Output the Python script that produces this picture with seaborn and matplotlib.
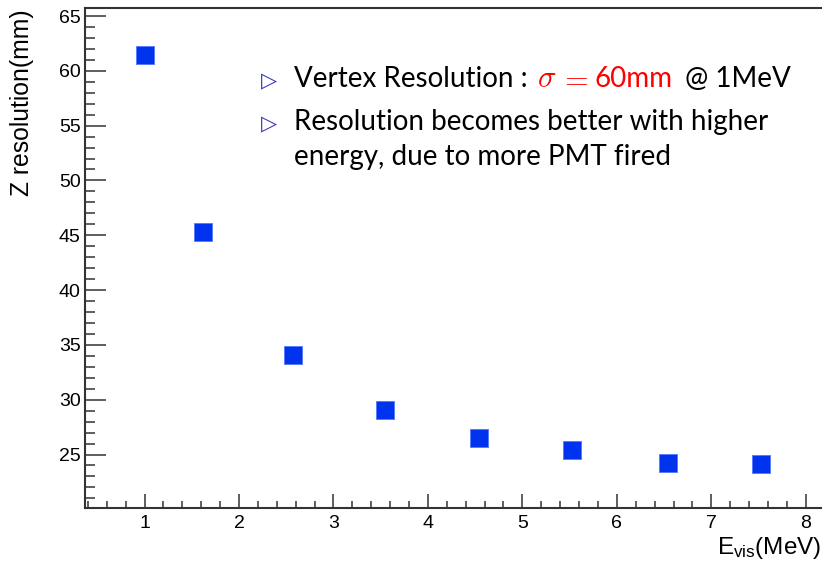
import matplotlib
matplotlib.use("Agg")
import matplotlib.pyplot as plt
import seaborn as sns
import pandas as pd
from matplotlib.ticker import MultipleLocator

energy = [1.0, 1.62, 2.57, 3.55, 4.54, 5.53, 6.54, 7.53]
resolution = [61.4, 45.3, 34.1, 29.1, 26.5, 25.4, 24.2, 24.1]
x_ticks = [1, 2, 3, 4, 5, 6, 7, 8]
y_ticks = [25, 30, 35, 40, 45, 50, 55, 60, 65]

sns.set_style("ticks")
plt.rcParams['font.family'] = ['Liberation Sans', 'DejaVu Sans']
plt.rcParams['text.color'] = 'black'
plt.rcParams['mathtext.fontset'] = 'custom'
plt.rcParams['mathtext.rm'] = 'Liberation Sans'
plt.rcParams['mathtext.it'] = 'Liberation Sans:italic'

df = pd.DataFrame({"E": energy, "Z": resolution})

fig = plt.figure(figsize=(8.22, 5.62), dpi=100)
ax = fig.add_axes([85/822, 54/562, (853-85)/822, (508-8)/562])
sns.scatterplot(data=df, x="E", y="Z", marker="s", s=150, color="#0033ee",
                edgecolor="#5577ff", linewidth=0.6, ax=ax, legend=False)

ax.set_xlim(0.37, 8.5)
ax.set_ylim(20.12, 65.73)
ax.set_xticks(x_ticks)
ax.set_yticks(y_ticks)
ax.xaxis.set_minor_locator(MultipleLocator(0.2))
ax.yaxis.set_minor_locator(MultipleLocator(1))
ax.tick_params(axis='y', which='major', direction='in', length=15, width=1.1,
               labelsize=14, pad=3, colors='#333333', labelcolor='black')
ax.tick_params(axis='y', which='minor', direction='in', length=7.5, width=1.1, colors='#333333')
ax.tick_params(axis='x', which='major', direction='in', length=10, width=1.1,
               labelsize=14, pad=5, colors='#333333', labelcolor='black')
ax.tick_params(axis='x', which='minor', direction='in', length=5, width=1.1, colors='#333333')
for sp in ax.spines.values():
    sp.set_visible(True)
    sp.set_linewidth(1.5)
    sp.set_color('#333333')

ax.set_xlabel("")
ax.set_ylabel("")
fig.text(821/822, 1 - 548/562, r"E$_{\mathrm{vis}}$(MeV)", ha='right', va='center', fontsize=17.5)
fig.text(22/822, 1 - 9/562, "Z resolution(mm)", rotation=90, ha='center', va='top', fontsize=17.8)

# annotation text
fs = 20
tfont = 'Lato'
tri_color = '#3333bb'
fig.text(261/822, 1 - 81/562, "\u25b7", color=tri_color, fontsize=15, ha='left', va='center',
         family='DejaVu Sans')
fig.text(261/822, 1 - 124/562, "\u25b7", color=tri_color, fontsize=15, ha='left', va='center',
         family='DejaVu Sans')

yb = 1 - 87/562
fig.text(294/822, yb, "Vertex Resolution :", fontsize=fs, ha='left', va='baseline', family=tfont)
fig.text(537/822, yb, r"$\sigma$", fontsize=fs + 2, color='red', ha='left', va='baseline',
         math_fontfamily='cm')
fig.text(559/822, yb, r"$=$", fontsize=fs + 2, color='red', ha='left', va='baseline',
         math_fontfamily='cm')
fig.text(595/822, yb, "60mm", fontsize=fs, color='red', ha='left', va='baseline', family=tfont)
fig.text(685/822, yb, "@ 1MeV", fontsize=fs, ha='left', va='baseline', family=tfont)

fig.text(294/822, 1 - 130/562, "Resolution becomes better with higher", fontsize=fs,
         ha='left', va='baseline', family=tfont)
fig.text(294/822, 1 - 165/562, "energy, due to more PMT fired", fontsize=fs,
         ha='left', va='baseline', family=tfont)

fig.savefig("out.png", dpi=100)
